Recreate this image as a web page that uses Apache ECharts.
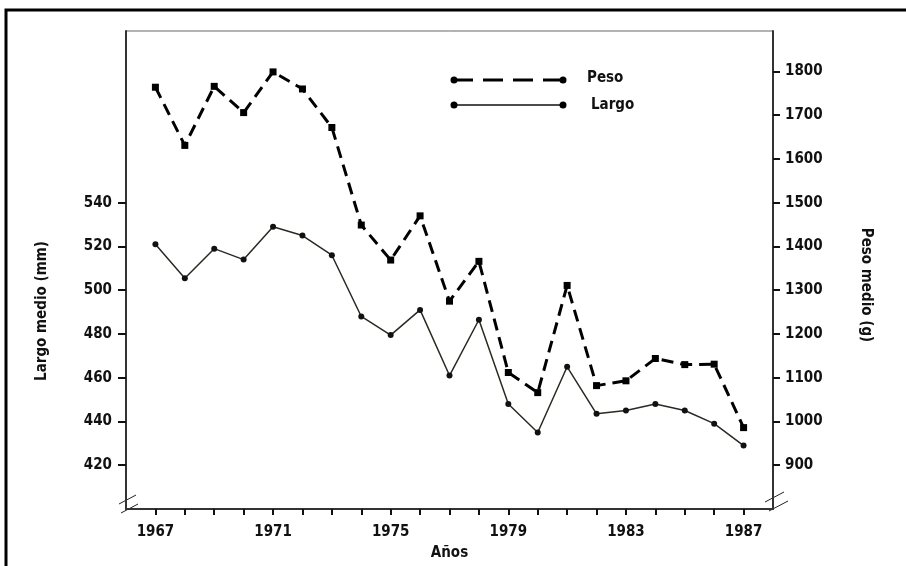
<!DOCTYPE html>
<html>
<head>
    <meta charset="utf-8">
    <title>Largo y peso medio</title>
    <script src="https://cdn.jsdelivr.net/npm/echarts@6/dist/echarts.min.js"></script>
    <style>
        html, body { margin: 0; padding: 0; background: #fff; }
    </style>
</head>
<body>
<div id="main" style="width: 906px;height:566px;"></div>
<script type="text/javascript">
    // datos
    var years = [1967, 1968, 1969, 1970, 1971, 1972, 1973, 1974, 1975, 1976, 1977,
                 1978, 1979, 1980, 1981, 1982, 1983, 1984, 1985, 1986, 1987];
    var largo = [521, 505.5, 519, 514, 529, 525, 516, 488, 479.5, 491, 461,
                 486.5, 448, 435, 465, 443.5, 445, 448, 445, 439, 429];
    var peso = [1764, 1631, 1766, 1706, 1799, 1760, 1672, 1449, 1369, 1470, 1275,
                1366, 1112, 1066, 1311, 1082, 1093, 1144, 1130, 1131, 986];
    var xLabels = [1967, 1971, 1975, 1979, 1983, 1987];
    var largoTicks = [420, 440, 460, 480, 500, 520, 540];
    var pesoTicks = [900, 1000, 1100, 1200, 1300, 1400, 1500, 1600, 1700, 1800];

    var myChart = echarts.init(document.getElementById('main'));

    var font = '"DejaVu Sans Condensed", "Liberation Sans", Arial, sans-serif';
    var plain = function (v) { return String(v); };
    var labelStyle = { color: '#111', fontFamily: font, fontWeight: 'bold', fontSize: 15, formatter: plain };

    function pairs(vals) {
        return years.map(function (y, i) { return [y, vals[i]]; });
    }

    var option = {
        animation: false,
        backgroundColor: '#fff',
        grid: {
            left: 126, right: 133, top: 31, bottom: 49,
            show: true, borderColor: '#666', borderWidth: 1
        },
        xAxis: {
            type: 'value', min: 1966, max: 1988, interval: 1,
            name: 'Años', nameLocation: 'middle', nameGap: 37,
            nameTextStyle: { color: '#111', fontFamily: font, fontWeight: 'bold', fontSize: 15 },
            axisLine: { lineStyle: { color: '#333', width: 2 } },
            axisTick: { length: 6, customValues: years, lineStyle: { color: '#111', width: 2 } },
            axisLabel: Object.assign({ margin: 16, customValues: xLabels }, labelStyle),
            splitLine: { show: false }
        },
        yAxis: [{
            type: 'value', position: 'left', min: 400, max: 618.5,
            axisLine: { show: true, lineStyle: { color: '#333', width: 2 } },
            axisTick: { show: true, length: 8, customValues: largoTicks, lineStyle: { color: '#111', width: 2 } },
            axisLabel: Object.assign({ margin: 14, customValues: largoTicks }, labelStyle),
            splitLine: { show: false }
        }, {
            type: 'value', position: 'right', min: 800, max: 1892.5,
            axisLine: { show: true, lineStyle: { color: '#333', width: 2 } },
            axisTick: { show: true, length: 7, customValues: pesoTicks, lineStyle: { color: '#111', width: 2 } },
            axisLabel: Object.assign({ margin: 12, customValues: pesoTicks }, labelStyle),
            splitLine: { show: false }
        }],
        series: [{
            name: 'Peso',
            type: 'line',
            yAxisIndex: 1,
            data: pairs(peso),
            symbol: 'rect', symbolSize: 7,
            itemStyle: { color: '#000' },
            lineStyle: { color: '#000', width: 3, type: [12, 7] }
        }, {
            name: 'Largo',
            type: 'line',
            yAxisIndex: 0,
            data: pairs(largo),
            symbol: 'circle', symbolSize: 6,
            itemStyle: { color: '#111' },
            lineStyle: { color: '#2a2a22', width: 1.5 }
        }],
        graphic: [
            // marco exterior
            { type: 'rect', shape: { x: 6, y: 10, width: 1000, height: 1000 },
              style: { fill: 'none', stroke: '#000', lineWidth: 3 }, silent: true },
            // leyenda
            { type: 'line', shape: { x1: 453, y1: 80, x2: 563, y2: 80 },
              style: { stroke: '#000', lineWidth: 3, lineDash: [20, 10] } },
            { type: 'circle', shape: { cx: 454, cy: 80, r: 3.5 }, style: { fill: '#000' } },
            { type: 'circle', shape: { cx: 563, cy: 80, r: 3.5 }, style: { fill: '#000' } },
            { type: 'text', left: 587, top: 71,
              style: { text: 'Peso', fill: '#111', font: 'bold 15px ' + font } },
            { type: 'line', shape: { x1: 453, y1: 105, x2: 563, y2: 105 },
              style: { stroke: '#111', lineWidth: 1.5 } },
            { type: 'circle', shape: { cx: 454, cy: 105, r: 3.5 }, style: { fill: '#000' } },
            { type: 'circle', shape: { cx: 563, cy: 105, r: 3.5 }, style: { fill: '#000' } },
            { type: 'text', left: 591, top: 98,
              style: { text: 'Largo', fill: '#111', font: 'bold 15px ' + font } },
            // titulos de los ejes y
            { type: 'text', x: 42, y: 311, rotation: Math.PI / 2,
              style: { text: 'Largo medio (mm)', fill: '#111', font: 'bold 15px ' + font,
                       align: 'center', verticalAlign: 'middle' } },
            { type: 'text', x: 866, y: 285, rotation: -Math.PI / 2,
              style: { text: 'Peso medio (g)', fill: '#111', font: 'bold 15px ' + font,
                       align: 'center', verticalAlign: 'middle' } },
            // cortes de eje
            { type: 'rect', shape: { x: 121, y: 499, width: 10, height: 10 }, style: { fill: '#fff' } },
            { type: 'line', shape: { x1: 119, y1: 504, x2: 136, y2: 495 }, style: { stroke: '#222', lineWidth: 1 } },
            { type: 'line', shape: { x1: 121, y1: 513, x2: 138, y2: 504 }, style: { stroke: '#222', lineWidth: 1 } },
            { type: 'rect', shape: { x: 768, y: 498, width: 10, height: 10 }, style: { fill: '#fff' } },
            { type: 'line', shape: { x1: 765, y1: 502, x2: 784, y2: 492 }, style: { stroke: '#222', lineWidth: 1 } },
            { type: 'line', shape: { x1: 769, y1: 511, x2: 788, y2: 501 }, style: { stroke: '#222', lineWidth: 1 } }
        ]
    };

    myChart.setOption(option);
</script>
</body>
</html>
